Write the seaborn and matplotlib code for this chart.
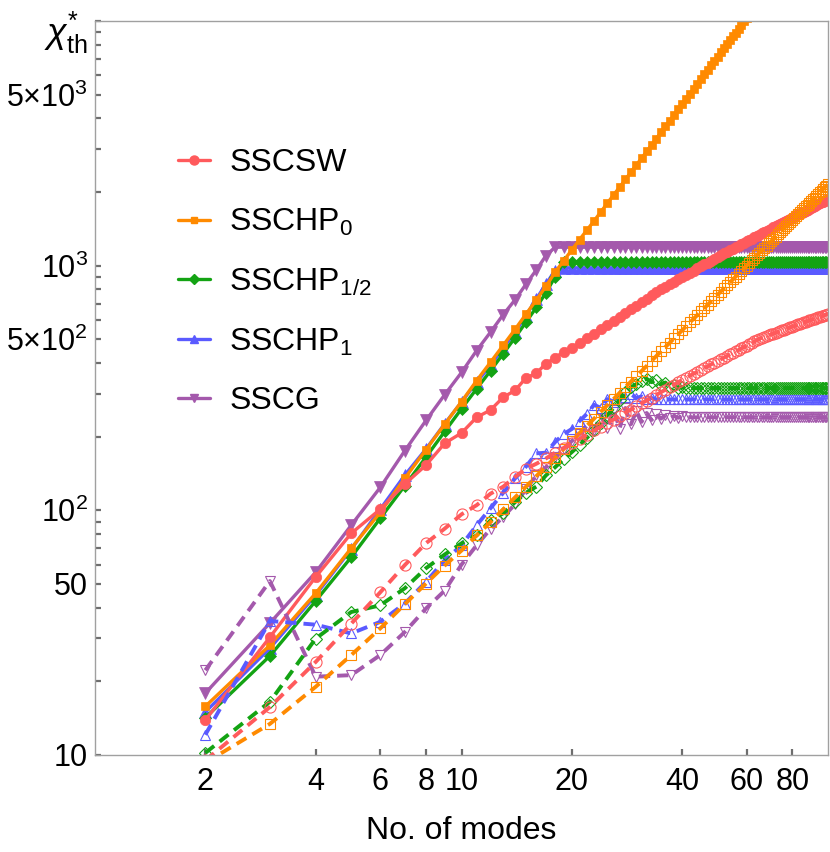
import matplotlib
matplotlib.use("Agg")
import matplotlib.pyplot as plt
import seaborn as sns
from matplotlib.lines import Line2D
from matplotlib.ticker import FixedLocator, FixedFormatter, NullFormatter

# ---------------- data ----------------
n_all = list(range(2, 101))
n_hp0 = list(range(2, 63))

sscsw_solid = [13.9, 30.3, 53.4, 80.5, 101, 128, 153, 188, 207,
               240, 257, 290, 309, 348, 363, 398, 420, 445, 462,
               484, 505, 526, 549, 572, 595, 618, 641, 664, 687,
               710, 733, 756, 779, 802, 821, 841, 860, 879, 898,
               917, 936, 955, 974, 993, 1012, 1030, 1049, 1067, 1086,
               1104, 1123, 1141, 1158, 1174, 1191, 1208, 1224, 1241, 1257,
               1273, 1289, 1306, 1322, 1338, 1354, 1370, 1386, 1402, 1417,
               1433, 1449, 1465, 1480, 1496, 1511, 1527, 1542, 1558, 1573,
               1588, 1604, 1619, 1634, 1649, 1664, 1679, 1694, 1710, 1725,
               1740, 1755, 1769, 1784, 1799, 1814, 1828, 1843, 1858, 1872]

sschp0_solid = [15.8, 28.1, 45.8, 70, 98, 135, 177, 225, 278,
                339, 403, 473, 549, 634, 724, 824, 940, 1047, 1160,
                1279, 1399, 1524, 1659, 1800, 1947, 2092, 2250, 2414, 2583,
                2748, 2929, 3115, 3306, 3504, 3707, 3915, 4130, 4350, 4576,
                4808, 5045, 5288, 5537, 5792, 6052, 6318, 6589, 6867, 7150,
                7439, 7733, 8034, 8340, 8652, 8969, 9292, 9621, 9956, 10296,
                10642, 10994]

sschp12_solid = [14.2, 25.4, 42.6, 64.3, 92.7, 126, 165, 210, 260,
                 314, 372, 437, 508, 588, 675, 775, 900, 1035, 1035,
                 1035, 1035, 1035, 1035, 1035, 1035, 1035, 1035, 1035, 1035,
                 1035, 1035, 1035, 1035, 1035, 1035, 1035, 1035, 1035, 1035,
                 1035, 1035, 1035, 1035, 1035, 1035, 1035, 1035, 1035, 1035,
                 1035, 1035, 1035, 1035, 1035, 1035, 1035, 1035, 1035, 1035,
                 1035, 1035, 1035, 1035, 1035, 1035, 1035, 1035, 1035, 1035,
                 1035, 1035, 1035, 1035, 1035, 1035, 1035, 1035, 1035, 1035,
                 1035, 1035, 1035, 1035, 1035, 1035, 1035, 1035, 1035, 1035,
                 1035, 1035, 1035, 1035, 1035, 1035, 1035, 1035, 1035, 1035]

sschp1_solid = [15.0, 27.3, 45, 69.3, 101, 139, 178, 226, 277,
                334, 391, 461, 535, 625, 731, 841, 955, 980, 980,
                980, 980, 980, 980, 980, 980, 980, 980, 980, 980,
                980, 980, 980, 980, 980, 980, 980, 980, 980, 980,
                980, 980, 980, 980, 980, 980, 980, 980, 980, 980,
                980, 980, 980, 980, 980, 980, 980, 980, 980, 980,
                980, 980, 980, 980, 980, 980, 980, 980, 980, 980,
                980, 980, 980, 980, 980, 980, 980, 980, 980, 980,
                980, 980, 980, 980, 980, 980, 980, 980, 980, 980,
                980, 980, 980, 980, 980, 980, 980, 980, 980, 980]

sscg_solid = [17.9, 34.6, 55.8, 86.9, 124, 175, 233, 297, 366,
              450, 535, 631, 725, 841, 960, 1099, 1190, 1190, 1190,
              1190, 1190, 1190, 1190, 1190, 1190, 1190, 1190, 1190, 1190,
              1190, 1190, 1190, 1190, 1190, 1190, 1190, 1190, 1190, 1190,
              1190, 1190, 1190, 1190, 1190, 1190, 1190, 1190, 1190, 1190,
              1190, 1190, 1190, 1190, 1190, 1190, 1190, 1190, 1190, 1190,
              1190, 1190, 1190, 1190, 1190, 1190, 1190, 1190, 1190, 1190,
              1190, 1190, 1190, 1190, 1190, 1190, 1190, 1190, 1190, 1190,
              1190, 1190, 1190, 1190, 1190, 1190, 1190, 1190, 1190, 1190,
              1190, 1190, 1190, 1190, 1190, 1190, 1190, 1190, 1190, 1190]

sscsw_dash = [9.5, 15.7, 24.0, 34.4, 46.2, 59.7, 73.4, 84.2, 96.3,
              105, 117, 125, 137, 148, 155, 163, 172, 180, 188,
              196, 204, 212, 220, 228, 235, 243, 251, 258, 266,
              274, 281, 289, 296, 304, 311, 319, 326, 334, 341,
              348, 355, 362, 368, 375, 382, 388, 395, 401, 408,
              414, 421, 427, 434, 440, 446, 452, 459, 465, 471,
              477, 483, 490, 496, 502, 508, 512, 516, 520, 524,
              528, 532, 536, 540, 544, 548, 552, 556, 560, 564,
              567, 571, 575, 579, 582, 586, 590, 593, 597, 601,
              604, 608, 611, 615, 618, 621, 625, 628, 631, 636]

sschp0_dash = [9.3, 13.4, 19.0, 25.6, 32.9, 41.3, 50.2, 59.5, 68.5,
               79, 89.5, 101, 113, 125, 138, 151, 164, 178, 192,
               207, 222, 237, 253, 269, 285, 302, 319, 336, 354,
               371, 389, 408, 427, 446, 465, 484, 504, 524, 544,
               565, 586, 607, 628, 650, 671, 693, 716, 738, 761,
               784, 807, 830, 854, 878, 902, 926, 950, 975, 1000,
               1025, 1050, 1076, 1102, 1128, 1154, 1180, 1207, 1233, 1260,
               1287, 1315, 1342, 1370, 1398, 1426, 1454, 1482, 1511, 1540,
               1569, 1598, 1627, 1657, 1686, 1716, 1746, 1776, 1807, 1837,
               1868, 1899, 1930, 1961, 1992, 2024, 2056, 2087, 2119, 2152]

sschp12_dash = [10.2, 16.5, 29.9, 38.4, 40.9, 48, 58, 66, 73.3,
                79, 91, 97.3, 108, 118, 125, 139, 150, 162, 173,
                185, 198, 212, 228, 245, 262, 283, 304, 318, 328,
                338, 345, 334, 342, 326, 333, 320, 324, 316, 318,
                316, 316, 316, 316, 316, 316, 316, 316, 316, 316,
                316, 316, 316, 316, 316, 316, 316, 316, 316, 316,
                316, 316, 316, 316, 316, 316, 316, 316, 316, 316,
                316, 316, 316, 316, 316, 316, 316, 316, 316, 316,
                316, 316, 316, 316, 316, 316, 316, 316, 316, 316,
                316, 316, 316, 316, 316, 316, 316, 316, 316, 316]

sschp1_dash = [12.1, 35.3, 34.1, 31.4, 35, 41.6, 51, 62.5, 72,
               86.9, 102, 118, 135, 151, 171, 172, 190, 205, 215,
               232, 248, 270, 262, 285, 278, 300, 290, 298, 288,
               292, 285, 288, 284, 286, 284, 284, 284, 284, 284,
               284, 284, 284, 284, 284, 284, 284, 284, 284, 284,
               284, 284, 284, 284, 284, 284, 284, 284, 284, 284,
               284, 284, 284, 284, 284, 284, 284, 284, 284, 284,
               284, 284, 284, 284, 284, 284, 284, 284, 284, 284,
               284, 284, 284, 284, 284, 284, 284, 284, 284, 284,
               284, 284, 284, 284, 284, 284, 284, 284, 284, 284]

sscg_dash = [22.2, 51.4, 20.9, 21.2, 25.6, 31.8, 39.7, 47, 60,
             72, 84, 94, 106, 122, 139, 150, 165, 178, 192,
             205, 222, 212, 245, 218, 258, 216, 262, 225, 255,
             230, 250, 234, 248, 237, 245, 238, 243, 239, 242,
             240, 240, 240, 240, 240, 240, 240, 240, 240, 240,
             240, 240, 240, 240, 240, 240, 240, 240, 240, 240,
             240, 240, 240, 240, 240, 240, 240, 240, 240, 240,
             240, 240, 240, 240, 240, 240, 240, 240, 240, 240,
             240, 240, 240, 240, 240, 240, 240, 240, 240, 240,
             240, 240, 240, 240, 240, 240, 240, 240, 240, 240]

series_names = ["SSCSW", r"SSCHP$_0$", r"SSCHP$_{1/2}$", r"SSCHP$_1$", "SSCG"]
x_ticks = [2, 4, 6, 8, 10, 20, 40, 60, 80]
x_tick_labels = ["2", "4", "6", "8", "10", "20", "40", "60", "80"]
y_ticks = [10, 50, 100, 500, 1000, 5000]
y_tick_labels = ["10", "50", r"$10^{2}$", r"$5{\times}10^{2}$", r"$10^{3}$", r"$5{\times}10^{3}$"]
y_minor = [20, 30, 40, 60, 70, 80, 90, 200, 300, 400, 600, 700, 800, 900,
           2000, 3000, 4000, 6000, 7000, 8000, 9000, 10000]

# ---------------- style ----------------
sns.set_style("white")
plt.rcParams["font.family"] = ["Liberation Sans", "DejaVu Sans"]
plt.rcParams["mathtext.fontset"] = "custom"
plt.rcParams["mathtext.rm"] = "Liberation Sans"
plt.rcParams["mathtext.it"] = "Liberation Sans:italic"
plt.rcParams["mathtext.bf"] = "Liberation Sans:bold"
plt.rcParams["text.color"] = "black"
plt.rcParams["axes.labelcolor"] = "black"

C_RED = "#FF5A5C"
C_ORA = "#FF8A00"
C_GRE = "#13A313"
C_BLU = "#5A5AFF"
C_PUR = "#A459AC"

fig = plt.figure(figsize=(8.3, 8.52), dpi=100)
ax = fig.add_axes([95 / 830, 1 - 755 / 852, (828 - 95) / 830, (755 - 21) / 852])
ax.set_xscale("log")
ax.set_yscale("log")

solid_specs = [
    (n_all, sscg_solid, C_PUR, "v", 8.0),
    (n_all, sschp1_solid, C_BLU, "^", 8.0),
    (n_all, sschp12_solid, C_GRE, "D", 6.2),
    (n_hp0, sschp0_solid, C_ORA, "s", 6.0),
    (n_all, sscsw_solid, C_RED, "o", 7.5),
]
dash_specs = [
    (n_all, sscg_dash, C_PUR, "v", 7.5),
    (n_all, sschp1_dash, C_BLU, "^", 7.5),
    (n_all, sschp12_dash, C_GRE, "D", 6.0),
    (n_all, sschp0_dash, C_ORA, "s", 6.5),
    (n_all, sscsw_dash, C_RED, "o", 8.0),
]

for xs, ys, c, m, ms in solid_specs:
    sns.lineplot(x=xs, y=ys, ax=ax, color=c, marker=m, markersize=ms,
                 markerfacecolor=c, markeredgecolor=c, markeredgewidth=0.5,
                 linewidth=2.4, linestyle="-", errorbar=None, estimator=None,
                 sort=False, legend=False)

for xs, ys, c, m, ms in dash_specs:
    sns.lineplot(x=xs, y=ys, ax=ax, color=c, marker=m, markersize=ms,
                 markerfacecolor="none", markeredgecolor=c, markeredgewidth=0.8,
                 linewidth=2.8, linestyle=(0, (2.9, 1.8)), errorbar=None,
                 estimator=None, sort=False, legend=False)

ax.set_xlim(1, 100)
ax.set_ylim(10, 10000)

ax.xaxis.set_major_locator(FixedLocator(x_ticks))
ax.xaxis.set_major_formatter(FixedFormatter(x_tick_labels))
ax.xaxis.set_minor_locator(FixedLocator([]))
ax.xaxis.set_minor_formatter(NullFormatter())
ax.yaxis.set_major_locator(FixedLocator(y_ticks))
ax.yaxis.set_major_formatter(FixedFormatter(y_tick_labels))
ax.yaxis.set_minor_locator(FixedLocator(y_minor))
ax.yaxis.set_minor_formatter(NullFormatter())

ax.tick_params(axis="both", which="both", direction="in", color="#6E6E6E",
               width=1.6, labelsize=22, labelcolor="black",
               bottom=True, left=True, top=False, right=False)
ax.tick_params(axis="both", which="major", length=4.5)
ax.tick_params(axis="both", which="minor", length=4.0)
ax.tick_params(axis="x", pad=9)
ax.tick_params(axis="y", pad=5)

for sp in ax.spines.values():
    sp.set_color("#A0A0A0")
    sp.set_linewidth(1.0)

ax.set_xlabel("No. of modes", fontsize=23, labelpad=13, color="black")
fig.text(88 / 830, 1 - 33 / 852, r"$\chi^{*}_{\mathrm{th}}$", ha="right", va="center",
         fontsize=26, color="black")

handles = []
for c, m, ms in [(C_RED, "o", 6.5), (C_ORA, "s", 4.5), (C_GRE, "D", 5), (C_BLU, "^", 6), (C_PUR, "v", 6)]:
    handles.append(Line2D([0], [0], color=c, linewidth=2.4, marker=m, markersize=ms,
                          markerfacecolor=c, markeredgecolor=c))
leg = ax.legend(handles, series_names, loc="upper left",
                bbox_to_anchor=(178 / 830, 1 - 148 / 852), bbox_transform=fig.transFigure,
                frameon=False, fontsize=23, handlelength=1.0, handletextpad=0.6,
                labelspacing=0.9, borderpad=0, borderaxespad=0)
for t in leg.get_texts():
    t.set_color("black")

fig.savefig("out.png", dpi=100)
